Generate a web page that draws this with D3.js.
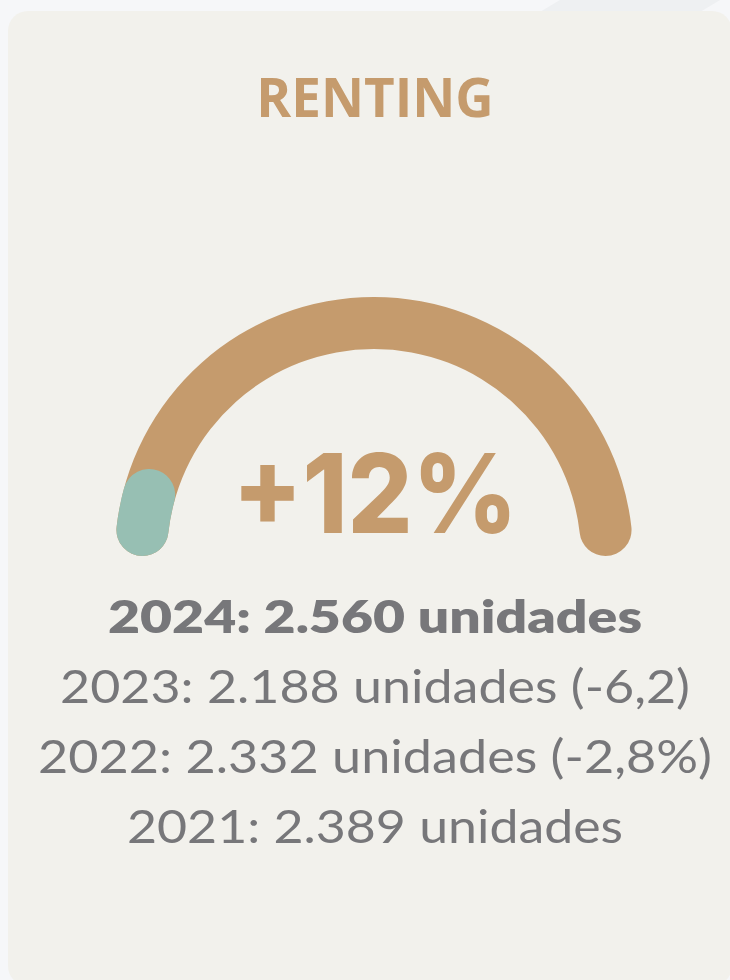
<!DOCTYPE html>
<html>
<head>
<meta charset="utf-8">
<script src="https://cdn.jsdelivr.net/npm/d3@7"></script>
<style>
  html, body { margin: 0; padding: 0; background: #f6f7f9; }
  svg { display: block; }
</style>
</head>
<body>
<script>
// data read from the card
var title = "RENTING";
var growth = 12;                 // % change 2024 vs 2023
var years = [2024, 2023, 2022, 2021];
var units = ["2.560", "2.188", "2.332", "2.389"];
var changes = [null, "-6,2", "-2,8%", null];

var width = 730,
    height = 980;

var tan = "#c59b6d",
    green = "#97bfb3",
    grey = "#77777a";

var svg = d3.select("body").append("svg")
    .attr("width", width)
    .attr("height", height);

// faint background shapes above the card
svg.append("polygon")
    .attr("points", "560,0 720,0 700,12 540,12")
    .style("fill", "#eef0f2");
svg.append("polygon")
    .attr("points", "870,0 1140,0 1120,12 850,12")
    .style("fill", "#eceef1");

// card
svg.append("rect")
    .attr("x", 8)
    .attr("y", 11)
    .attr("width", 724)
    .attr("height", 975)
    .attr("rx", 20)
    .style("fill", "#f2f1ec");

// title
svg.append("text")
    .text(title)
    .attr("x", 375)
    .attr("y", 117)
    .attr("text-anchor", "middle")
    .style("font-family", "'Open Sans', sans-serif")
    .style("font-weight", 700)
    .style("font-size", "53px")
    .style("fill", tan);

// gauge: half circle, value scale 0..100% mapped onto -90..90 deg
var angle = d3.scaleLinear().domain([0, 100]).range([-Math.PI / 2, Math.PI / 2]);

var arc = d3.arc()
    .innerRadius(207)
    .outerRadius(259)
    .cornerRadius(26);

var gauge = svg.append("g")
    .attr("transform", "translate(374,556)");

gauge.append("path")
    .attr("d", arc({startAngle: angle(0), endAngle: angle(100)}))
    .style("fill", tan);

gauge.append("path")
    .attr("d", arc({startAngle: angle(0), endAngle: angle(growth)}))
    .style("fill", green);

// big percentage
svg.append("text")
    .text("+" + growth + "%")
    .attr("x", 375)
    .attr("y", 533)
    .attr("text-anchor", "middle")
    .attr("textLength", 285)
    .attr("lengthAdjust", "spacingAndGlyphs")
    .style("font-family", "Inter, sans-serif")
    .style("font-weight", 800)
    .style("font-size", "110px")
    .style("fill", tan);

var lineWidths = [534, 630, 674, 496];

years.forEach(function(y, i){
    var label = y + ": " + units[i] + " unidades";
    if(changes[i]){
        label += " (" + changes[i] + ")";
    }
    svg.append("text")
        .text(label)
        .attr("x", 375)
        .attr("y", 633 + i * 70)
        .attr("text-anchor", "middle")
        .attr("textLength", lineWidths[i])
        .attr("lengthAdjust", "spacingAndGlyphs")
        .style("font-family", "Lato, sans-serif")
        .style("font-weight", i == 0 ? 800 : 400)
        .style("font-size", "46px")
        .style("fill", grey);
});
</script>
</body>
</html>
